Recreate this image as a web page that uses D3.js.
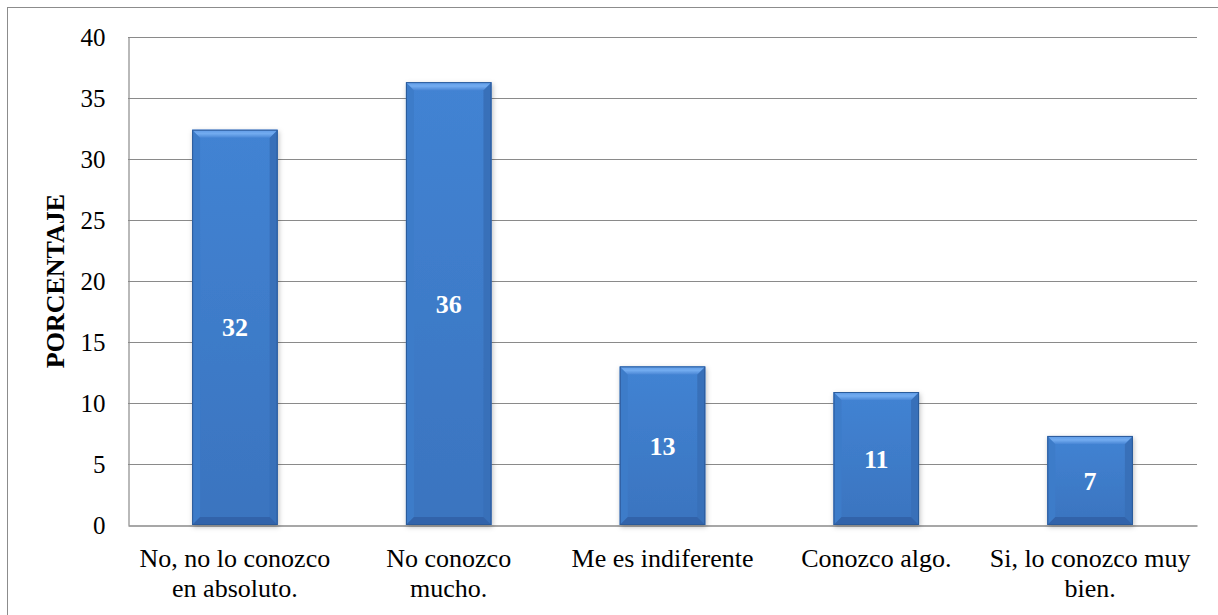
<!DOCTYPE html>
<html>
<head>
<meta charset="utf-8">
<script src="https://cdn.jsdelivr.net/npm/d3@7"></script>
<style>
  html, body { margin: 0; padding: 0; background: #ffffff; }
  svg { display: block; }
  svg text { font-family: "Liberation Serif", "Times New Roman", Times, serif; }
</style>
</head>
<body>
<svg id="chart" width="1218" height="615"></svg>
<script>
const categories = [["No, no lo conozco", "en absoluto."], ["No conozco", "mucho."], ["Me es indiferente"], ["Conozco algo."], ["Si, lo conozco muy", "bien."]];
const values = [32.4, 36.3, 13.0, 10.9, 7.3];
const yTicks = [0, 5, 10, 15, 20, 25, 30, 35, 40];
const yTitle = "PORCENTAJE";

const svg = d3.select("#chart");
const m = { left: 128, top: 37, right: 1197, bottom: 525 };
const font = "Liberation Serif, Times New Roman, Times, serif";

// outer frame
svg.append("rect").attr("x", 7.5).attr("y", 7.5).attr("width", 1230).attr("height", 630)
  .attr("fill", "#fff").attr("stroke", "#8c8c8c").attr("stroke-width", 1);

const ids = categories.map((d, i) => "c" + i);
const x = d3.scaleBand().domain(ids).range([m.left, m.right]).paddingInner(0.6).paddingOuter(0.3);
const y = d3.scaleLinear().domain([0, 40]).range([m.bottom, m.top]);

// gridlines
svg.append("g").selectAll("line").data(yTicks.filter(t => t > 0)).join("line")
  .attr("x1", m.left).attr("x2", m.right)
  .attr("y1", d => Math.round(y(d)) + 0.5).attr("y2", d => Math.round(y(d)) + 0.5)
  .attr("stroke", "#8a8a8a").attr("stroke-width", 1.2);

// y axis
const yAxis = d3.axisLeft(y).tickValues(yTicks).tickSize(0).tickPadding(23);
const gy = svg.append("g").attr("transform", `translate(${m.left + 0.5},0)`).call(yAxis);
gy.attr("font-family", null).attr("font-size", null);
gy.select(".domain").attr("stroke", "#8a8a8a").attr("stroke-width", 1.2);
gy.selectAll(".tick text").style("font-family", font).style("font-size", "25px").attr("fill", "#000");

// x axis
const xAxis = d3.axisBottom(x).tickSize(0).tickFormat("");
const gx = svg.append("g").attr("transform", `translate(0,${m.bottom + 0.5})`).call(xAxis);
gx.select(".domain").attr("stroke", "#8a8a8a").attr("stroke-width", 1.5);

// defs
const defs = svg.append("defs");
const g1 = defs.append("linearGradient").attr("id", "topBevel").attr("x1", 0).attr("x2", 0).attr("y1", 0).attr("y2", 1);
g1.append("stop").attr("offset", "0%").attr("stop-color", "#5d9ae6");
g1.append("stop").attr("offset", "50%").attr("stop-color", "#73acf0");
g1.append("stop").attr("offset", "100%").attr("stop-color", "#4a87d6");
const g2 = defs.append("linearGradient").attr("id", "body").attr("x1", 0).attr("x2", 0).attr("y1", 0).attr("y2", 1);
g2.append("stop").attr("offset", "0%").attr("stop-color", "#4283d3");
g2.append("stop").attr("offset", "100%").attr("stop-color", "#3a74bf");
const f = defs.append("filter").attr("id", "shadow").attr("x", "-20%").attr("y", "-10%").attr("width", "140%").attr("height", "130%");
f.append("feDropShadow").attr("dx", 1).attr("dy", 2).attr("stdDeviation", 2.5).attr("flood-color", "#000").attr("flood-opacity", 0.25);

const bw = x.bandwidth();
const bev = 8;
const bars = svg.append("g").selectAll("g").data(values).join("g")
  .attr("filter", "url(#shadow)");

bars.append("rect")
  .attr("x", (d, i) => x(ids[i])).attr("y", d => y(d))
  .attr("width", bw).attr("height", d => y(0) - y(d))
  .attr("fill", "url(#body)");

bars.append("polygon").attr("points", (d, i) => {
  const x0 = x(ids[i]), y0 = y(d), y1 = y(0);
  return [[x0, y0], [x0 + bev, y0 + bev], [x0 + bev, y1 - bev], [x0, y1]].join(" ");
}).attr("fill", "#3e7cc9");
bars.append("polygon").attr("points", (d, i) => {
  const x1 = x(ids[i]) + bw, y0 = y(d), y1 = y(0);
  return [[x1, y0], [x1 - bev, y0 + bev], [x1 - bev, y1 - bev], [x1, y1]].join(" ");
}).attr("fill", "#3870b9");
bars.append("polygon").attr("points", (d, i) => {
  const x0 = x(ids[i]), x1 = x0 + bw, y1 = y(0);
  return [[x0, y1], [x0 + bev, y1 - bev], [x1 - bev, y1 - bev], [x1, y1]].join(" ");
}).attr("fill", "#3264aa");
bars.append("polygon").attr("points", (d, i) => {
  const x0 = x(ids[i]), x1 = x0 + bw, y0 = y(d);
  return [[x0, y0], [x1, y0], [x1 - bev, y0 + bev], [x0 + bev, y0 + bev]].join(" ");
}).attr("fill", "url(#topBevel)");
bars.append("rect")
  .attr("x", (d, i) => x(ids[i]) + 0.5).attr("y", d => y(d) + 0.5)
  .attr("width", bw - 1).attr("height", d => y(0) - y(d) - 1)
  .attr("fill", "none").attr("stroke", "#2c5a9a").attr("stroke-width", 1);

// value labels
svg.append("g").selectAll("text").data(values).join("text")
  .attr("x", (d, i) => x(ids[i]) + bw / 2)
  .attr("y", d => (y(d) + y(0)) / 2)
  .attr("dy", "0.35em")
  .attr("text-anchor", "middle")
  .style("font-family", font).style("font-weight", "bold").style("font-size", "26px")
  .attr("fill", "#ffffff")
  .text(d => Math.round(d));

// category labels
const cl = svg.append("g").selectAll("text").data(categories).join("text")
  .attr("x", (d, i) => x(ids[i]) + bw / 2)
  .attr("y", 558)
  .attr("text-anchor", "middle")
  .style("font-family", font).style("font-size", "26px").attr("fill", "#000");
cl.selectAll("tspan").data(d => d).join("tspan")
  .attr("x", function () { return d3.select(this.parentNode).attr("x"); })
  .attr("dy", (d, j) => j === 0 ? "0.35em" : "30px")
  .text(d => d);

// y title
svg.append("text")
  .attr("transform", `translate(55,${(m.top + m.bottom) / 2}) rotate(-90)`)
  .attr("text-anchor", "middle").attr("dy", "0.35em")
  .style("font-family", font).style("font-weight", "bold").style("font-size", "26px")
  .attr("fill", "#000")
  .text(yTitle);
</script>
</body>
</html>
